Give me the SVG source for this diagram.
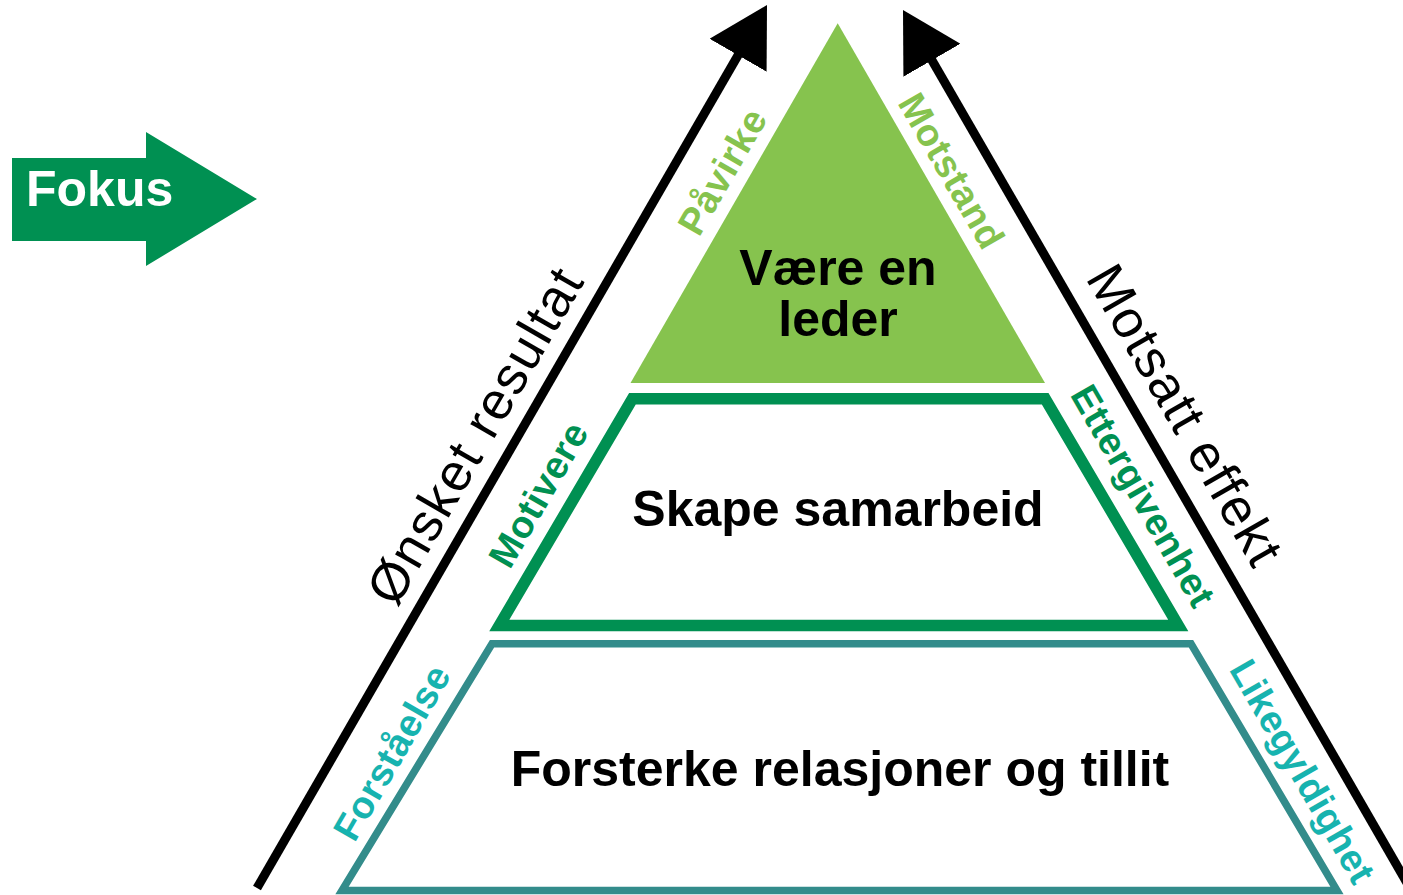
<svg xmlns="http://www.w3.org/2000/svg" width="1403" height="895" viewBox="0 0 1403 895">
<style>
.main{font-family:"Liberation Sans",Arial,sans-serif;font-weight:bold;font-size:50px;fill:#000;text-anchor:middle}
.side{font-family:"Liberation Sans",Arial,sans-serif;font-size:53px;fill:#000;text-anchor:middle;letter-spacing:1.5px}
.lbl{font-family:"Liberation Sans",Arial,sans-serif;font-weight:bold;font-size:38px;text-anchor:middle;letter-spacing:0.5px}
.lg{fill:#86C34E}
.dg{fill:#009052}
.cy{fill:#17B3AF}
.arrowline{stroke:#000;stroke-width:9;fill:none;marker-end:url(#head)}
</style>
<defs>
<marker id="head" markerUnits="userSpaceOnUse" viewBox="0 0 58 66" markerWidth="58" markerHeight="66" refX="5" refY="33" orient="auto">
<path d="M0,0 L58,33 L0,66 Z" fill="#000"/>
</marker>
</defs>
<rect width="1403" height="895" fill="#fff"/>
<g id="connectors">
<line class="arrowline" x1="257" y1="888" x2="740.5" y2="50.9"/>
<line class="arrowline" x1="1410" y1="888" x2="929.5" y2="55.9"/>
</g>
<g id="fokus">
<polygon points="12,158 146,158 146,132 257,199 146,266 146,241 12,241" fill="#009052"/>
<text x="26" y="206" class="main" style="text-anchor:start;fill:#fff">Fokus</text>
</g>
<g id="level-top">
<polygon points="837.7,23.3 1045,383 630.5,383" fill="#86C34E"/>
<text x="838" y="285" class="main">Være en</text>
<text x="838" y="336" class="main">leder</text>
</g>
<g id="level-middle">
<polygon points="632.4,398.8 1045.2,398.8 1178.3,625.5 499.3,625.5" fill="none" stroke="#009052" stroke-width="11.5"/>
<text x="838" y="526" class="main">Skape samarbeid</text>
</g>
<g id="level-bottom">
<polygon points="492,643.75 1191,643.75 1337,890.5 342,890.5" fill="none" stroke="#338C8B" stroke-width="7.5"/>
<text x="840" y="786" class="main">Forsterke relasjoner og tillit</text>
</g>
<g id="side-left">
<text class="side" transform="translate(474.5,435) rotate(-60)" y="19">Ønsket resultat</text>
</g>
<g id="side-right">
<text class="side" transform="translate(1186,415) rotate(60)" y="19">Motsatt effekt</text>
</g>
<g id="labels">
<text class="lbl lg" transform="translate(722.5,171.5) rotate(-60)" y="13">Påvirke</text>
<text class="lbl lg" transform="translate(951.5,171) rotate(60)" y="13">Motstand</text>
<text class="lbl dg" transform="translate(538.5,494.5) rotate(-60)" y="13">Motivere</text>
<text class="lbl dg" transform="translate(1140.5,497.5) rotate(60)" y="10">Ettergivenhet</text>
<text class="lbl cy" transform="translate(392,752.5) rotate(-60)" y="13">Forståelse</text>
<text class="lbl cy" transform="translate(1300,773) rotate(60)" y="10">Likegyldighet</text>
</g>
</svg>
